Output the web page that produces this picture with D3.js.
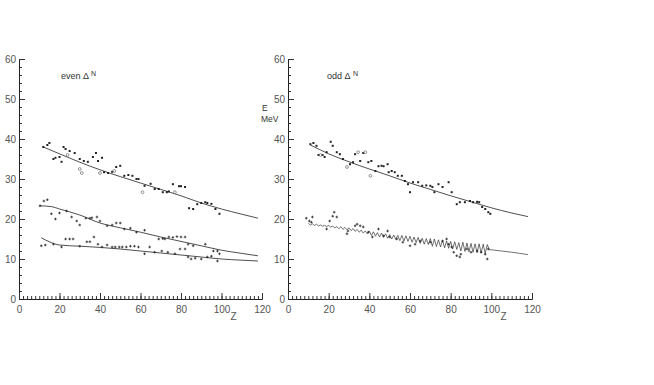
<!DOCTYPE html>
<html>
<head>
<meta charset="utf-8">
<script src="https://cdn.jsdelivr.net/npm/d3@7"></script>
<style>
  body { margin: 0; background: #fff; }
  svg { display: block; }
  .tick text { font-family: "Liberation Sans", Arial, sans-serif; font-size: 10px; fill: #555; }
  .lbl { font-family: "Liberation Sans", Arial, sans-serif; font-size: 9px; fill: #333; }
</style>
</head>
<body>
<svg width="654" height="385"></svg>
<script>
const svg = d3.select("svg");

// left panel: even delta N
const evenUpperPts = [[12,38],[14,38.5],[15,39],[17,35],[18,35.3],[20,35.5],[21,34.3],[22,38],[23,37.5],[25,37],[27.5,36.5],[30,35],[32,34.5],[34,34.3],[36.5,35.5],[38,36.5],[39,34.5],[41,35.3],[42,31.7],[44,31.5],[46,31.8],[48,33],[50,33.3],[52,30.8],[54,31],[56,30.8],[58,30],[59,30],[62,28.3],[65,28.8],[67,27.5],[69,27.5],[71,26.7],[73,26.7],[74,26.9],[76,28.7],[79,28.2],[80,28.2],[82,28],[84,22.7],[86,22.5],[88,23.7],[90,24],[92,24.2],[93,24],[95,23.8],[97,22.5],[99,21.3]];
const evenUpperOpen = [[24,36],[30,32.5],[31,31.5],[40,31.5],[47,32],[61,26.7],[77,26.7]];
const evenMidPts = [[10.4,23.3],[12.3,24.5],[14,24.8],[16,21.3],[18,20],[20,21.5],[23.5,22],[26,20.5],[28.5,19.5],[30,18.5],[33,20.2],[35,20.2],[36,20.3],[38.5,20.5],[40,19.5],[43.5,18.3],[46,18.5],[48,19],[50,19],[52,17.5],[55,17.7],[58,16.7],[62,17.2],[69,15],[71,15.1],[72,15],[74,15.5],[76,15.4],[78,15.6],[80,15.5],[82,15.5],[83.5,13.7],[86,13.3],[92,13.7],[96,12],[98,12],[99,11.3]];
const evenLowPts = [[11,13.3],[13,13.5],[17,13.7],[21,13],[23,15],[25,15],[26.7,15],[30,13.2],[33.5,14.3],[35,14.3],[37,15.5],[39,13.7],[41,13],[43.5,13.5],[46,13],[47.5,13],[49.5,13],[51,13],[53,13],[55,13.2],[57,13.2],[59,13],[62,11.3],[64.5,13],[67,11.7],[70.5,12],[73.5,11.7],[77,11.3],[79.5,12.5],[82,12.5],[83.5,10.5],[85,10],[87,10.2],[90,10],[93,10.5],[95,10.7],[98,9.5]];
const evenUpperFit = [[12,38],[20,36.3],[30,34.2],[40,32.3],[50,30.6],[60,29],[70,27.4],[80,25.8],[90,24],[100,22.5],[110,21.2],[118,20.2]];
const evenMidFit = [[10,23.3],[16,23.1],[20,22.5],[30,21],[40,19],[50,17.8],[60,16.7],[70,15.5],[80,14.4],[90,13.3],[100,12.2],[110,11.4],[118,10.8]];
const evenLowFit = [[11,15.3],[15,14.3],[20,13.5],[30,13.2],[40,12.9],[50,12.5],[60,12],[70,11.5],[80,11],[90,10.5],[100,10],[110,9.7],[118,9.5]];

// right panel: odd delta N
const oddUpperPts = [[11,38.7],[12.5,39],[14,38.3],[15,36],[17,36],[18,35.5],[19,36.7],[21,39.3],[22,38.3],[24,36.7],[25.5,36.2],[27,35],[30.5,33.7],[32,34.2],[33,36.2],[35.5,34.5],[37,36.5],[39.5,34.2],[41,34.5],[43,32],[44.5,33.2],[46,33.3],[47,33.2],[49,33.7],[49.5,31.7],[51,32],[52.5,31.7],[54,30.8],[56,30.8],[57.5,29.5],[59,28.7],[60,26.7],[61.5,29.2],[64,29.2],[66,28.3],[68,28.4],[70,28.3],[71,28],[72,26.7],[74,28.7],[76,28],[79,29.2],[80.5,26.7],[83,23.7],[84.5,24.2],[87,24.2],[89.5,24.5],[91,24.2],[93,24.3],[94,24.2],[95.5,23],[97,22.5],[98.5,21.7],[99.5,21.3]];
const oddUpperOpen = [[16,36],[29,33],[34.5,36.7],[38,36.7],[40.5,30.8]];
const oddLowPts = [[9,20.2],[10.5,19.5],[11.5,19.2],[12,20.5],[19,17.5],[20.5,19.5],[22,20.7],[22.7,21.7],[24,20.5],[29,16.3],[29.5,17],[33,18.3],[34,18.7],[35.5,18.3],[37,18],[39.5,16.7],[41.5,15.5],[44.5,17.5],[47,15.8],[49,17],[50,15.5],[53.5,15],[56.5,14.2],[60,13.3],[62.5,13.7],[65,14.5],[70,14.2],[76,14.5],[78,15],[79,13.7],[80.5,13],[81.5,11.7],[83,10.8],[84.5,10.5],[85,11.2],[88,12.5],[90,11.7],[93,12],[95,11.7],[97,11.2],[98,10],[98.5,12.5]];
const oddUpperFit = [[11,38.5],[20,36.3],[30,34.3],[40,32.5],[50,30.8],[60,29],[70,27.4],[80,25.8],[90,24.3],[100,22.8],[110,21.5],[118,20.6]];
// staggered curve, one value per Z starting at Z = 10
const oddLowFitStart = 10;
const oddLowFitE = [18.9,18.5,18.8,18.4,18.7,18.3,18.5,18.2,18.4,18.1,
  18.4,18.0,18.2,17.8,18.1,17.6,18.1,17.4,17.9,17.3,
  17.8,17.1,17.6,16.9,17.4,16.7,17.2,16.5,17.0,16.3,
  17.0,15.9,16.8,15.7,16.6,15.5,16.5,15.4,16.3,15.2,
  16.1,15.0,16.0,14.9,15.9,14.6,15.9,14.5,15.8,14.4,
  15.7,14.2,15.5,14.1,15.4,13.9,15.2,13.7,15.1,13.6,
  15.1,13.2,15.0,13.1,14.8,13.0,14.7,12.8,14.5,12.7,
  14.4,12.5,14.3,12.4,14.1,12.0,14.2,11.9,14.0,11.8,
  13.9,11.7,13.8,11.6,13.8,11.5,13.7,11.4,13.6,12.3,12.3];
const oddLowFitTail = [[105,12.0],[110,11.7],[114,11.4],[118,11.1]];

const yTicks = [0, 10, 20, 30, 40, 50, 60];
const xTicks = [0, 20, 40, 60, 80, 100, 120];

const y = d3.scaleLinear().domain([0, 60]).range([299, 59]);
const xL = d3.scaleLinear().domain([0, 120]).range([19, 262]);
const xR = d3.scaleLinear().domain([0, 120]).range([288, 532]);

function drawAxes(x) {
    const g = svg.append("g");
    // minor ticks
    g.append("g")
        .attr("transform", `translate(${x(0)},0)`)
        .call(d3.axisLeft(y).tickValues(d3.range(0, 61, 2)).tickSizeInner(-3).tickSizeOuter(0).tickFormat(""));
    g.append("g")
        .attr("transform", `translate(0,${y(0)})`)
        .call(d3.axisBottom(x).tickValues(d3.range(0, 121, 2)).tickSizeInner(-3).tickSizeOuter(0).tickFormat(""));
    // major ticks with labels
    g.append("g")
        .attr("transform", `translate(${x(0)},0)`)
        .call(d3.axisLeft(y).tickValues(yTicks).tickSizeInner(-6).tickSizeOuter(0).tickPadding(3));
    g.append("g")
        .attr("transform", `translate(0,${y(0)})`)
        .call(d3.axisBottom(x).tickValues(xTicks).tickSizeInner(-6).tickSizeOuter(0).tickPadding(7));
    g.selectAll("path.domain").attr("stroke", "#222");
    g.selectAll(".tick line").attr("stroke", "#333");
    g.append("text").attr("class", "lbl")
        .attr("x", x(106)).attr("y", 320).attr("text-anchor", "middle")
        .style("font-size", "10px").style("fill", "#555").text("Z");
}

function drawLine(x, pts) {
    svg.append("path")
        .datum(pts)
        .attr("fill", "none")
        .attr("stroke", "#222")
        .attr("stroke-width", 0.8)
        .attr("d", d3.line().x(d => x(d[0])).y(d => y(d[1])).curve(d3.curveMonotoneX));
}

function drawDots(x, pts) {
    svg.append("g").selectAll("rect")
        .data(pts)
        .enter()
        .append("rect")
        .attr("x", d => x(d[0]) - 1)
        .attr("y", d => y(d[1]) - 1)
        .attr("width", 2)
        .attr("height", 2)
        .attr("fill", "#222");
}

function drawPlus(x, pts) {
    const g = svg.append("g").attr("stroke", "#222").attr("stroke-width", 0.8);
    g.selectAll("path")
        .data(pts)
        .enter()
        .append("path")
        .attr("d", d => {
            const px = x(d[0]), py = y(d[1]);
            return `M${px - 1.3},${py}h2.6M${px},${py - 1.3}v2.6`;
        });
}

function drawOpen(x, pts) {
    svg.append("g").selectAll("circle")
        .data(pts)
        .enter()
        .append("circle")
        .attr("cx", d => x(d[0]))
        .attr("cy", d => y(d[1]))
        .attr("r", 1.4)
        .attr("fill", "none")
        .attr("stroke", "#777")
        .attr("stroke-width", 0.8);
}

// left panel
drawAxes(xL);
drawLine(xL, evenUpperFit);
drawLine(xL, evenMidFit);
drawLine(xL, evenLowFit);
drawDots(xL, evenUpperPts);
drawOpen(xL, evenUpperOpen);
drawPlus(xL, evenMidPts);
drawPlus(xL, evenLowPts);

svg.append("text").attr("class", "lbl").attr("x", 61).attr("y", 79).text("even \u0394");
svg.append("text").attr("class", "lbl").attr("x", 91).attr("y", 76).style("font-size", "7px").text("N");

// right panel
drawAxes(xR);
drawLine(xR, oddUpperFit);
const oddLowFit = oddLowFitE.map((e, i) => [oddLowFitStart + i, e]).concat(oddLowFitTail);
svg.append("path")
    .datum(oddLowFit)
    .attr("fill", "none")
    .attr("stroke", "#333")
    .attr("stroke-width", 0.7)
    .attr("d", d3.line().x(d => xR(d[0])).y(d => y(d[1])));
drawDots(xR, oddUpperPts);
drawOpen(xR, oddUpperOpen);
drawPlus(xR, oddLowPts);

svg.append("text").attr("class", "lbl").attr("x", 327).attr("y", 79).text("odd \u0394");
svg.append("text").attr("class", "lbl").attr("x", 353).attr("y", 76).style("font-size", "7px").text("N");
svg.append("text").attr("class", "lbl").attr("x", 262).attr("y", 111).style("font-size", "8.5px").text("E");
svg.append("text").attr("class", "lbl").attr("x", 261).attr("y", 122).style("font-size", "8.5px").text("MeV");
</script>
</body>
</html>
